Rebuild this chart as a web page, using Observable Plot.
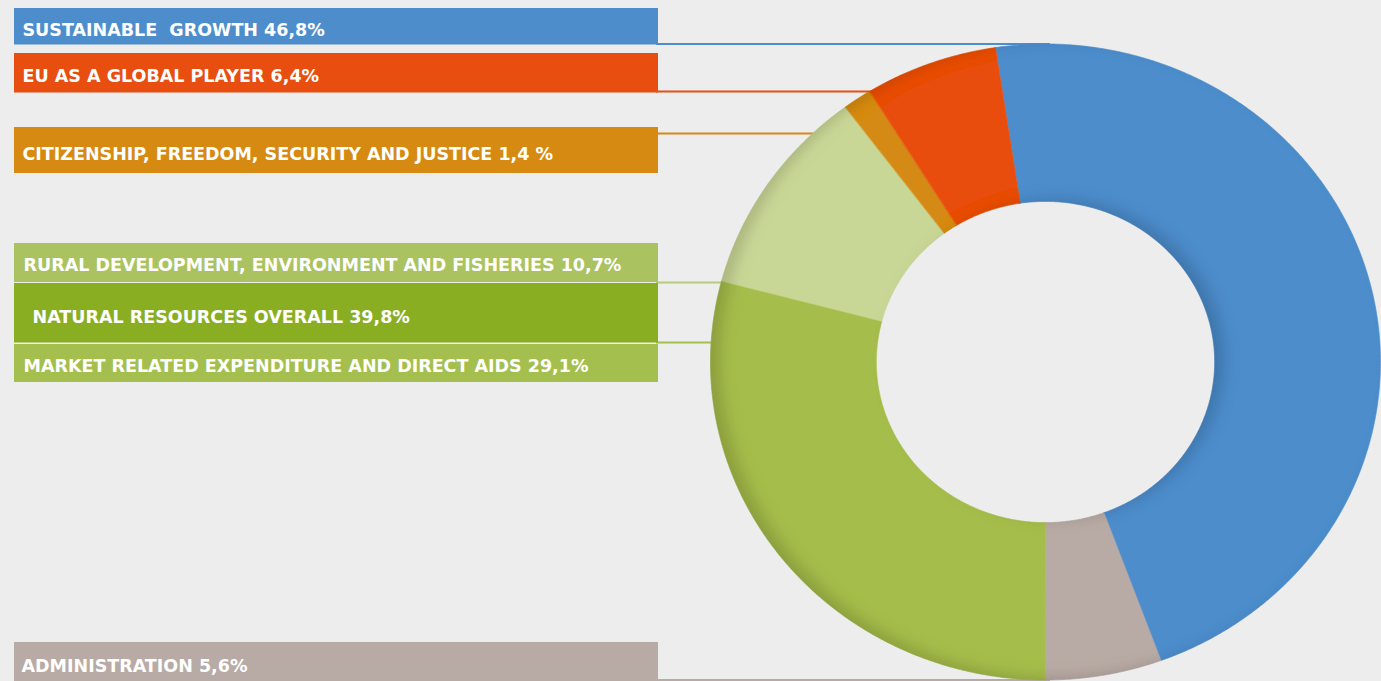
<!DOCTYPE html>
<html><head><meta charset="utf-8">
<script src="https://cdn.jsdelivr.net/npm/d3@7"></script>
<script src="https://cdn.jsdelivr.net/npm/@observablehq/plot@0.6"></script>
<style>
html,body{margin:0;padding:0;background:#ededed;}
#chart{width:1381px;height:681px;overflow:hidden;}
</style></head><body><div id="chart"></div>
<script>
// ---- data ----
const slices = ["Sustainable growth","Administration","Market related expenditure and direct aids","Rural development, environment and fisheries","Citizenship, freedom, security and justice","EU as a global player"];
const shares = [46.8, 5.6, 29.1, 10.7, 1.4, 6.4];
const sliceColors = ["#4e8dcc","#b8aaa4","#a5bd4c","#c9d796","#d68a12","#e84e10"];

const labels = ["SUSTAINABLE  GROWTH 46,8%","EU AS A GLOBAL PLAYER 6,4%","CITIZENSHIP, FREEDOM, SECURITY AND JUSTICE 1,4 %","RURAL DEVELOPMENT, ENVIRONMENT AND FISHERIES 10,7%","NATURAL RESOURCES OVERALL 39,8%","MARKET RELATED EXPENDITURE AND DIRECT AIDS 29,1%","ADMINISTRATION 5,6%"];
const labelColors = ["#4e8dcc","#e84e10","#d68a12","#aac360","#8aae22","#a4bf4e","#b8aaa4"];
const lineColors = ["#4e8dcc","#e84e10","#d68a12","#b7cb7c","#a4bf4e","#b8aaa4"];

// ---- layout (pixels) ----
const W = 1381, H = 681;
const CX = 1045, CY = 361.5, RX = 335, RY = 318, INNER = 0.505;
const START = -8.6 * Math.PI / 180;
const BOX_X1 = 14, BOX_X2 = 658;
const boxY = [[8,44.5],[53,92.5],[127,173],[243,282],[283,342.5],[344,382],[642,690]];
const textX = [22,22,22,23,32,23,21];
const textBase = [35,81,159,270.5,322.5,371.5,671];
const lineY = [43.5,91,133,282,342,679.5];

const boxes = labels.map((text,i)=>({text, color: labelColors[i], y1: boxY[i][0], y2: boxY[i][1], tx: textX[i], ty: textBase[i]}));

// outer-edge x of the ring at a given y (left side)
function edgeX(y){
  const t = (y - CY) / RY;
  const s = Math.sqrt(Math.max(0, 1 - t*t));
  return CX - RX * s + 5;
}
const leaders = lineY.map((y,i)=>({y, x2: edgeX(y), color: lineColors[i]}));

// ring polygons
const pie = d3.pie().sort(null).value(d=>d.share).startAngle(START).endAngle(START + 2*Math.PI);
const arcs = pie(slices.map((name,i)=>({name, share: shares[i], color: sliceColors[i]})));
const ringPts = arcs.flatMap(a=>{
  const n = Math.max(6, Math.ceil((a.endAngle - a.startAngle) / 0.008));
  const ts = d3.range(n+1).map(k=>a.startAngle + (a.endAngle - a.startAngle) * k / n);
  const pts = [];
  for (const t of ts) pts.push({name: a.data.name, color: a.data.color, x: CX + RX*Math.sin(t), y: CY - RY*Math.cos(t)});
  for (const t of ts.slice().reverse()) pts.push({name: a.data.name, color: a.data.color, x: CX + RX*INNER*Math.sin(t), y: CY - RY*INNER*Math.cos(t)});
  return pts;
});

const FONT = "'DejaVu Sans', sans-serif";

const chart = Plot.plot({
  width: W, height: H,
  margin: 0,
  x: {type: "linear", domain: [0, W], range: [0, W], axis: null},
  y: {type: "linear", domain: [0, H], range: [0, H], axis: null},
  style: {background: "#ededed", overflow: "hidden"},
  marks: [
    Plot.ruleY(leaders, {y: "y", x1: BOX_X2 - 2, x2: "x2", stroke: "color", strokeWidth: 2}),
    Plot.line(ringPts, {x: "x", y: "y", z: "name", fill: "color", stroke: "color", strokeWidth: 0.6, curve: "linear-closed", ariaDescription: "ring"}),
    Plot.rect(boxes, {x1: BOX_X1, x2: BOX_X2, y1: "y1", y2: "y2", fill: "color"}),
    Plot.text(boxes, {x: "tx", y: "ty", text: "text", fill: "white", textAnchor: "start", lineAnchor: "bottom", fontSize: 17.5, fontWeight: "bold", fontFamily: FONT})
  ]
});

const svgNS = "http://www.w3.org/2000/svg";
const defs = document.createElementNS(svgNS, "defs");
defs.innerHTML = `<filter id="innerShadow" x="-20%" y="-20%" width="140%" height="140%">
  <feComponentTransfer in="SourceAlpha" result="inv"><feFuncA type="table" tableValues="1 0"/></feComponentTransfer>
  <feGaussianBlur in="inv" stdDeviation="7" result="blur"/>
  <feOffset in="blur" dx="11" dy="-3" result="off"/>
  <feFlood flood-color="#000" flood-opacity="0.3" result="col"/>
  <feComposite in="col" in2="off" operator="in" result="sh"/>
  <feComposite in="sh" in2="SourceAlpha" operator="in" result="sh2"/>
  <feMerge><feMergeNode in="SourceGraphic"/><feMergeNode in="sh2"/></feMerge>
</filter>`;
chart.insertBefore(defs, chart.firstChild);
const ring = chart.querySelector('[aria-description="ring"]');
if (ring) ring.setAttribute("filter", "url(#innerShadow)");
document.getElementById("chart").appendChild(chart);
</script></body></html>
